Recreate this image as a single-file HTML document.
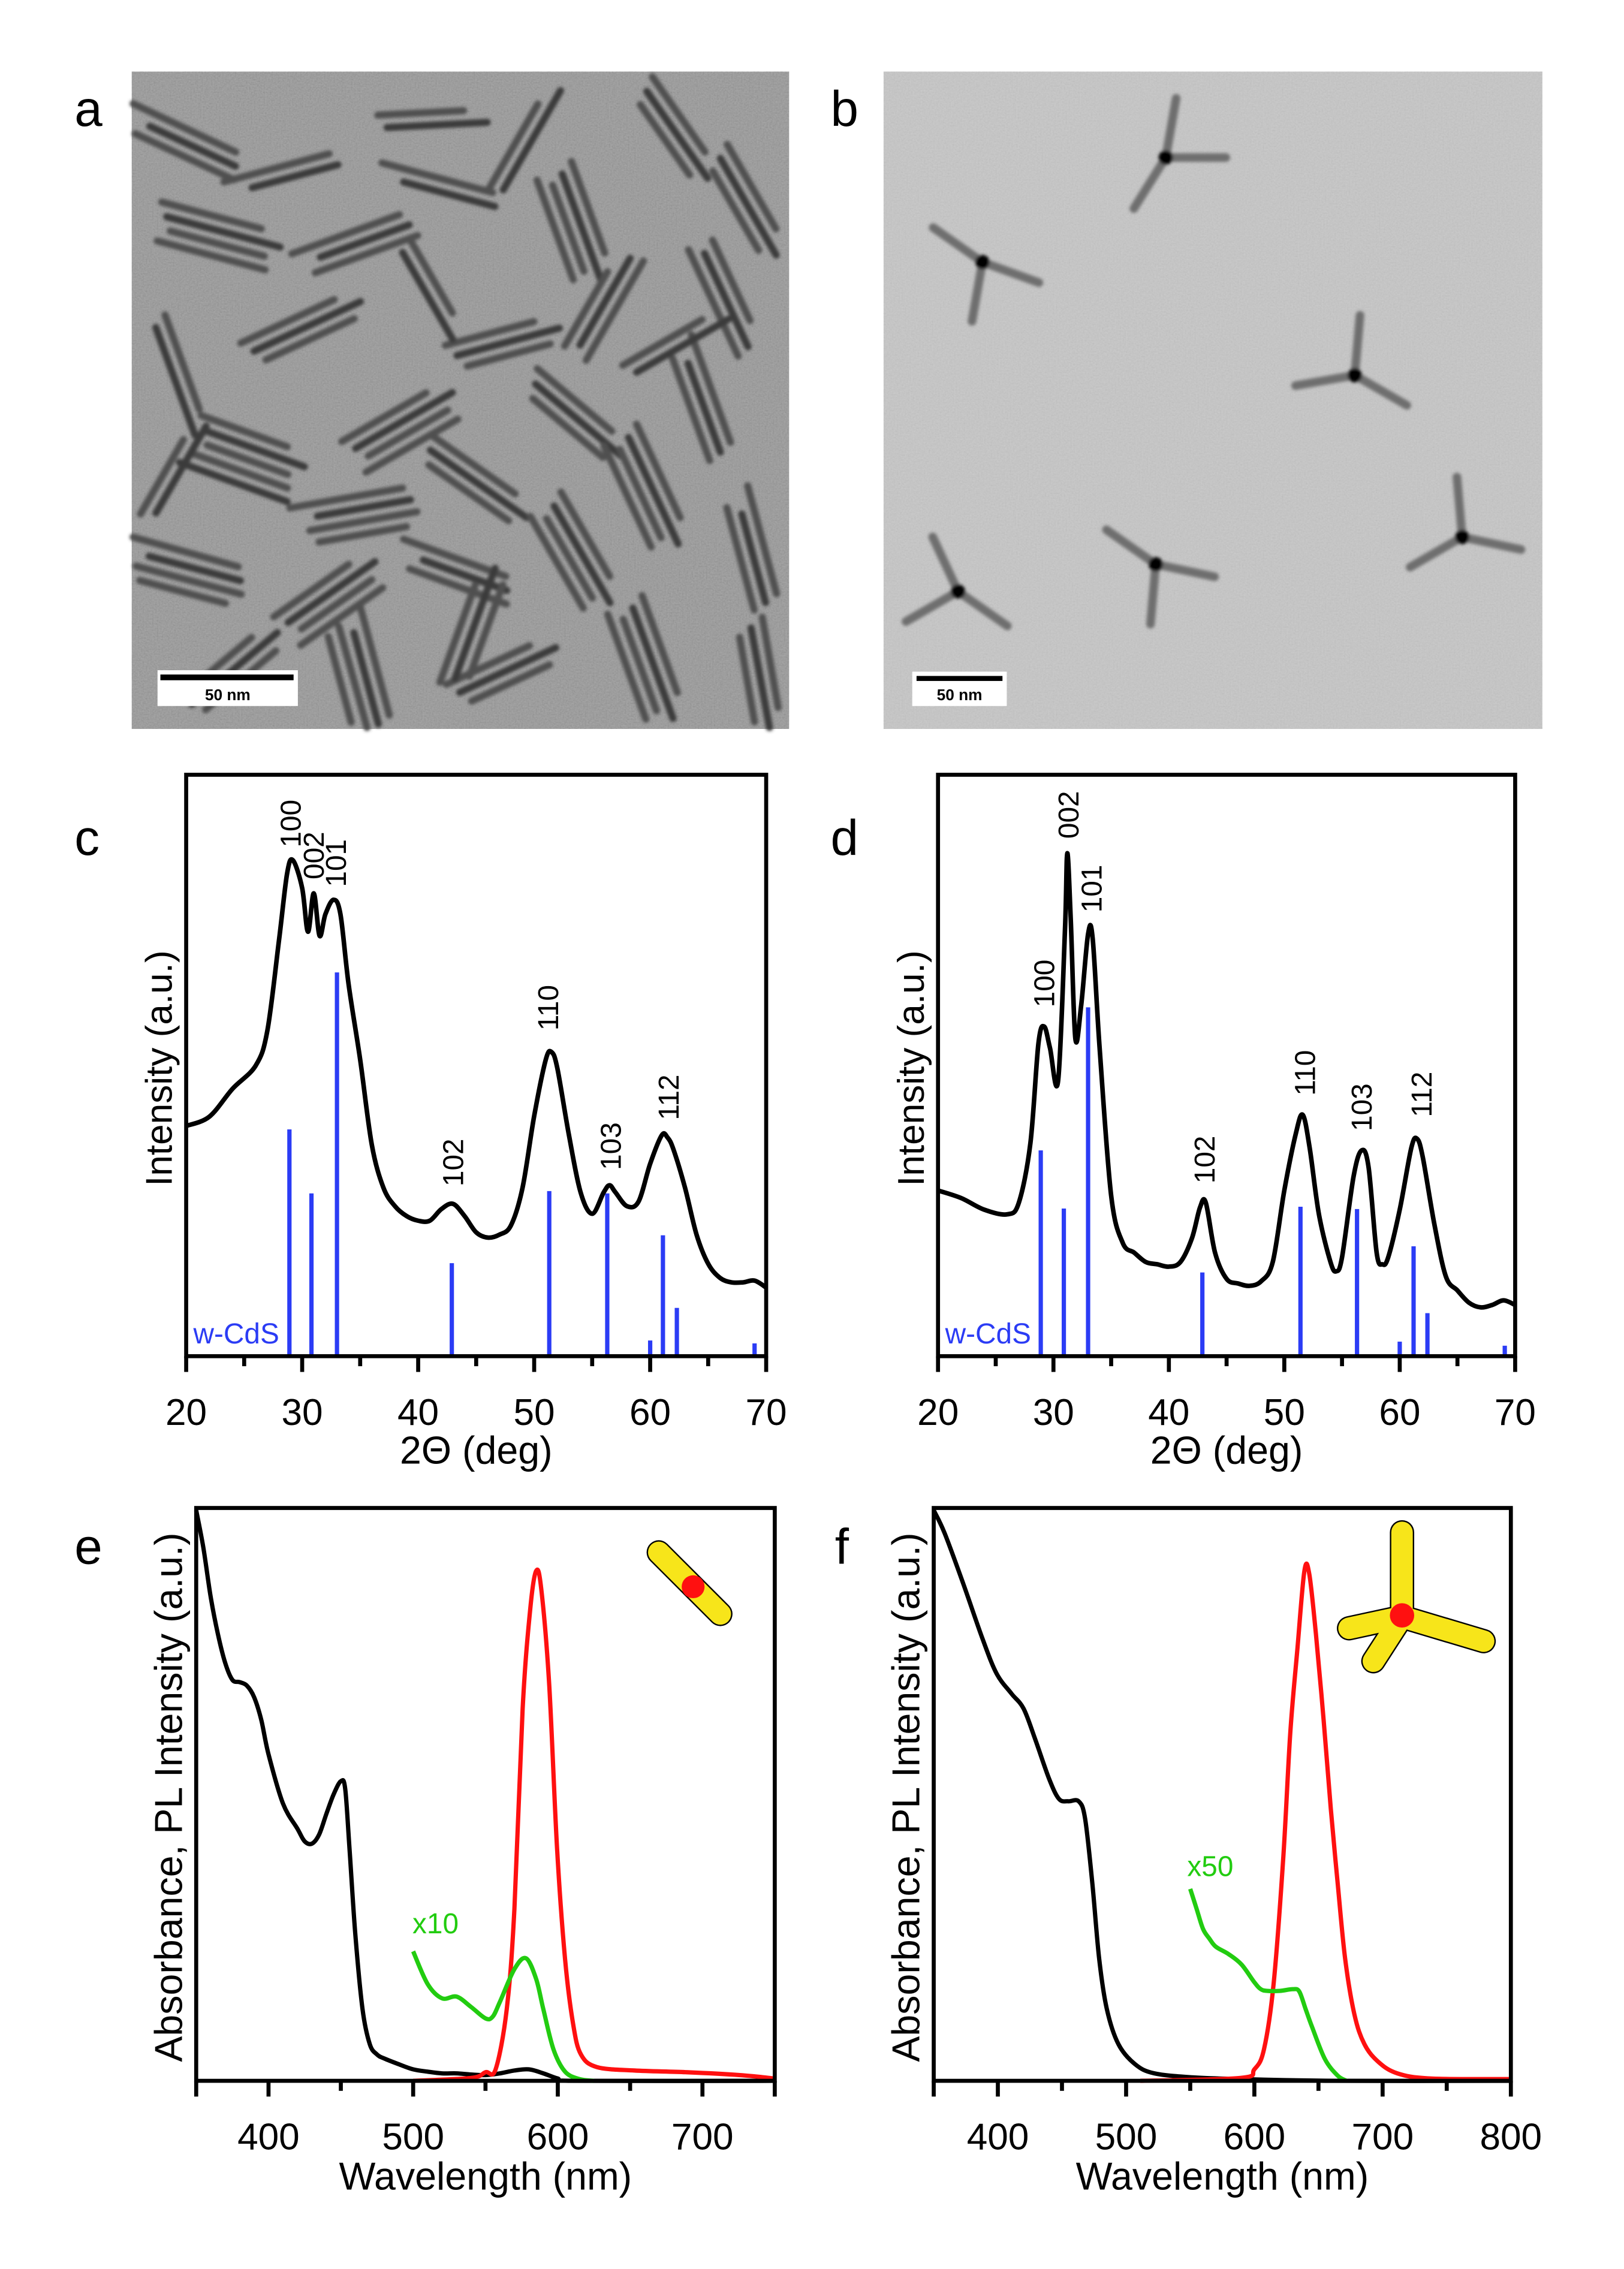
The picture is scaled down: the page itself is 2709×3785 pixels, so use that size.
<!DOCTYPE html>
<html><head><meta charset="utf-8"><style>
html,body{margin:0;padding:0;background:#fff;}
svg{display:block;}
text{font-family:"Liberation Sans",Arial,sans-serif;}
</style></head><body>
<svg id="fig" xmlns="http://www.w3.org/2000/svg" width="2709" height="3785" viewBox="0 0 1134 1584.4">
<defs>
<filter id="noise" x="0" y="0" width="100%" height="100%">
<feTurbulence type="fractalNoise" baseFrequency="0.9" numOctaves="2" seed="3"/>
<feColorMatrix type="saturate" values="0"/>
<feComponentTransfer><feFuncA type="linear" slope="0" intercept="0.35"/></feComponentTransfer>
</filter>
<filter id="soft"><feGaussianBlur stdDeviation="1.1"/></filter>
</defs>
<rect width="1134" height="1584.4" fill="#fff"/>
<g id="tem-a">
<rect x="92" y="50" width="459" height="459" fill="#959595"/>
<rect x="92" y="50" width="459" height="459" filter="url(#noise)" opacity="0.6"/>
<g id="rods" filter="url(#soft)"></g>
</g>
<g id="tem-b">
<rect x="617" y="50" width="460" height="459" fill="#c6c6c6"/>
<rect x="617" y="50" width="460" height="459" filter="url(#noise)" opacity="0.35"/>
<g id="tripods" filter="url(#soft)"></g>
</g>
<g id="scale-a">
<rect x="110" y="468" width="98" height="25" fill="#fff"/>
<rect x="112" y="471" width="93" height="4" fill="#000"/>
<text x="159" y="489" font-size="11" font-weight="bold" text-anchor="middle">50 nm</text>
</g>
<g id="scale-b">
<rect x="637" y="469" width="66" height="24" fill="#fff"/>
<rect x="640" y="472" width="60" height="3.5" fill="#000"/>
<text x="670" y="489" font-size="11" font-weight="bold" text-anchor="middle">50 nm</text>
</g>
<text x="52" y="88" font-size="35">a</text>
<text x="580" y="88" font-size="35">b</text>
<text x="52" y="597" font-size="35">c</text>
<text x="580" y="597" font-size="35">d</text>
<text x="52" y="1092" font-size="35">e</text>
<text x="583" y="1092" font-size="35">f</text>
<g id="charts"></g>
</svg>
<script>
// ---- XRD panel c data ----
const cTheta = [20,22,24,26,27,28,28.7,29.2,30,30.5,31,31.5,32,32.7,33.3,34,35,36,37,38,39,40,41,42,43,44,45,46,47,48,49,50,51,51.5,52,53,54,55,56,56.5,57,58,59,60,61,61.5,62,63,64,65,66,67,68,69,70];
const cIntensity = [39.6,41.2,46,50,56,71.5,83,85.3,80.5,73,79.6,72.3,76,78.5,76,64,51,36.4,29,25.8,24.1,23.3,23.3,25.3,26.2,24.1,21.3,20.4,20.9,22.5,29,41.3,51,52.3,49.5,38,28.2,24.5,28.2,29.4,28.2,25.8,26.6,33.1,38,37.6,35.6,29,20.9,15.9,13.5,12.7,12.7,13,11.8];
const cStickPos = [28.9,30.8,33.0,42.9,51.3,56.3,60.0,61.1,62.3,69.0];
const cStickVal = [39,28,66,16,28.4,28,2.7,20.8,8.3,2.2];
const cPeakLabels = ["100","002","101","102","110","103","112"];
const cPeakPos = [29.0,31.0,32.9,43.0,51.2,56.6,61.6];
const cPeakTextBase = [87.5,82,80.7,29.2,56,32,40.6];
// ---- XRD panel d data ----
const dTheta = [20,22,24,26,27,28,28.7,29.2,29.7,30.4,31.0,31.2,31.5,31.9,32.4,33.0,33.4,34,35,36,37,38,39,40,41,42,42.7,43.2,44,45,46,47,48,49,50,51,51.6,52.2,53,54,54.5,55,56,56.7,57.3,58,58.5,59,60,61,61.5,62,63,64,65,66,67,68,69,70];
const dIntensity = [28.5,27.2,25.2,24.4,26.4,36.6,53.8,56.7,53,47.3,73.4,86.5,75,54.6,60.3,72.6,71.8,53,27.6,19.5,17.8,16.2,15.8,15.4,16.2,20.3,25.6,26.4,17.8,13.3,12.5,12.1,12.9,16.2,28.5,38.3,41.5,35.8,24.4,16.2,14.6,17,30.9,35.4,32.5,17.8,15.8,17,25.2,35.8,37.4,34.2,22.7,13.7,11.3,9.2,8.4,8.8,9.6,8.8];
const dStickPos = [28.9,30.9,33.0,42.9,51.4,56.3,60.0,61.2,62.4,69.1];
const dStickVal = [35.4,25.4,60,14.4,25.7,25.3,2.5,18.9,7.4,1.8];
const dPeakLabels = ["100","002","101","102","110","103","112"];
const dPeakPos = [29.2,31.3,33.3,43.1,51.8,56.7,61.9];
const dPeakTextBase = [60,89,76.3,29.7,44.8,38.7,41.1];
const xrdTicks = [20,30,40,50,60,70];
const xrdMinor = [25,35,45,55,65];
// ---- optical panel e data ----
const eAbsWl = [350,355,360,365,370,375,380,385,390,395,400,410,420,425,430,435,440,445,450,453,456,460,465,470,475,480,490,500,510,520,530,540,550,560,570,580,590,600,610,750];
const eAbsVal = [99.6,93,84.5,78,73,70,69.6,69,67,63,57,48.4,44,41.8,41.4,43,46.6,50,52.3,51,40.5,25.6,12.5,6.4,4.6,3.9,2.9,2,1.6,1.3,1.3,1.1,1,1.3,1.8,2,1.3,0.4,0,0];
const ePlWl = [500,540,550,557,564.7,570,575.7,581,585,588.5,594,599.5,605,610.6,616,627,653,689,726,750];
const ePlVal = [0,0.5,1.5,2,12.5,30,65,82.5,89,86,69.4,40.5,21.3,9.9,4.6,2.4,1.8,1.5,1,0.4];
const ePleWl = [500,510,520,530,540,550,555,560,570,578,585,590,597,605,615,625];
const ePleVal = [22.6,16.9,14.4,14.7,12.9,10.9,11.2,13.8,19.5,21.4,17.8,12.5,5.5,1.6,0.3,0];
// ---- optical panel f data ----
const fAbsWl = [350,358.5,373,388,399,410.6,420,429,440,447.7,455,463,468,473.7,479,485,494,507,522,552,589,663,800];
const fAbsVal = [99.6,95.6,86.8,77.2,71.1,67.6,65,59.7,52.7,49.2,48.8,48.8,45.8,34.4,21.3,12.5,6.4,2.9,1.3,0.6,0.3,0,0];
const fPlWl = [511,589,600,607.5,615,622.5,628,633.6,639,642.8,648,654,659.6,665,670.8,678,685.8,696.7,711.5,737.5,800];
const fPlVal = [0,0.5,2,5.5,16.9,38.8,60.7,75.5,89,88.5,78,63,47.5,34.4,21.3,11.6,6.4,3.3,1.3,0.4,0.3];
const fPleWl = [550,555,560,565,570,580,590,600,605,610,620,630,635,640,645,655,665,672];
const fPleVal = [33.5,30,26.5,24.8,23.4,22.1,20.3,17.2,16,15.7,15.7,16,15.6,12.5,9.4,3.8,0.9,0];

const NS = "http://www.w3.org/2000/svg";
const charts = document.getElementById('charts');
function mk(tag, attrs, parent){ const e=document.createElementNS(NS,tag); for(const k in attrs) e.setAttribute(k,attrs[k]); (parent||charts).appendChild(e); return e; }
function linScale(d0,d1,r0,r1){ return v => r0 + (v-d0)/(d1-d0)*(r1-r0); }
function smoothPath(pts){
  let d = 'M'+pts[0][0].toFixed(2)+','+pts[0][1].toFixed(2);
  for(let i=0;i<pts.length-1;i++){
    const p0=pts[Math.max(0,i-1)], p1=pts[i], p2=pts[i+1], p3=pts[Math.min(pts.length-1,i+2)];
    const c1=[p1[0]+(p2[0]-p0[0])/6, p1[1]+(p2[1]-p0[1])/6];
    const c2=[p2[0]-(p3[0]-p1[0])/6, p2[1]-(p3[1]-p1[1])/6];
    d += 'C'+c1[0].toFixed(2)+','+c1[1].toFixed(2)+' '+c2[0].toFixed(2)+','+c2[1].toFixed(2)+' '+p2[0].toFixed(2)+','+p2[1].toFixed(2);
  }
  return d;
}

function drawPanel(p){
  const g = mk('g',{});
  
  
  const X = linScale(p.xmin,p.xmax,p.x0,p.x1);
  const Y = linScale(0,100,p.y1,p.y0);
  if(p.stickPos){
    p.stickPos.forEach((s,i)=>{
      const l = mk('line',{x1:X(s),x2:X(s),y1:p.y1,y2:Y(p.stickVal[i]),stroke:'#2b3cf5','stroke-width':3},g);
      
      
    });
    const w = mk('text',{x:p.x0+5,y:p.y1-9,'font-size':20,fill:'#2b3cf5'},g);
    w.textContent = 'w-CdS';
    
    
  }
  p.series.forEach(s=>{
    const pts = s.x.map((v,i)=>[X(v),Y(s.y[i])]);
    const path = mk('path',{d:smoothPath(pts),fill:'none',stroke:s.color,'stroke-width':s.w||3,'stroke-linejoin':'round'},g);
    
    
  });
  const fr = mk('rect',{x:p.x0,y:p.y0,width:p.x1-p.x0,height:p.y1-p.y0,fill:'none',stroke:'#000','stroke-width':2.8},g);
  
  
  p.ticks.forEach(t=>{
    const l = mk('line',{x1:X(t),x2:X(t),y1:p.y1,y2:p.y1+11,stroke:'#000','stroke-width':2.8},g);
    
    
    if(p.labelTicks.indexOf(t)>=0){
      const tx = mk('text',{x:X(t),y:p.tickY,'font-size':26,'text-anchor':'middle'},g);
      tx.textContent = t;
      
      
    }
  });
  p.minor.forEach(t=>{
    const l = mk('line',{x1:X(t),x2:X(t),y1:p.y1,y2:p.y1+7,stroke:'#000','stroke-width':2.8},g);
    
    
  });
  const xt = mk('text',{x:(p.x0+p.x1)/2,y:p.titleY,'font-size':27,'text-anchor':'middle'},g);
  xt.textContent = p.xTitle;
  
  
  const yt = mk('text',{x:0,y:0,'font-size':p.yTitleSize,'text-anchor':'middle',transform:`translate(${p.yTitleX},${(p.y0+p.y1)/2+2}) rotate(-90)`},g);
  yt.textContent = p.yTitle;
  
  
  if(p.peakLabels){
    p.peakLabels.forEach((lab,i)=>{
      const x = X(p.peakPos[i])+7, y = Y(p.peakTextBase[i]);
      const t = mk('text',{x:0,y:0,'font-size':20,transform:`translate(${x},${y}) rotate(-90)`},g);
      t.textContent = lab;
      
      
    });
  }
  return {g,X,Y};
}

drawPanel({name:'xrd-chart-c',x0:130,x1:535,y0:541,y1:947,xmin:20,xmax:70,ticks:xrdTicks,labelTicks:xrdTicks,minor:xrdMinor,
  tickY:995,titleY:1022,xTitle:'2\u0398 (deg)',yTitle:'Intensity (a.u.)',yTitleX:120,yTitleSize:26,
  stickPos:cStickPos,stickVal:cStickVal,peakLabels:cPeakLabels,peakPos:cPeakPos,peakTextBase:cPeakTextBase,
  series:[{name:'xrd-curve-c',x:cTheta,y:cIntensity,color:'#000',w:3.2}]});
drawPanel({name:'xrd-chart-d',x0:655,x1:1058,y0:541,y1:947,xmin:20,xmax:70,ticks:xrdTicks,labelTicks:xrdTicks,minor:xrdMinor,
  tickY:995,titleY:1022,xTitle:'2\u0398 (deg)',yTitle:'Intensity (a.u.)',yTitleX:645,yTitleSize:26,
  stickPos:dStickPos,stickVal:dStickVal,peakLabels:dPeakLabels,peakPos:dPeakPos,peakTextBase:dPeakTextBase,
  series:[{name:'xrd-curve-d',x:dTheta,y:dIntensity,color:'#000',w:3.2}]});
drawPanel({name:'optical-chart-e',x0:137,x1:541,y0:1053,y1:1453,xmin:350,xmax:750,ticks:[350,400,500,600,700,750],labelTicks:[400,500,600,700],minor:[450,550,650],
  tickY:1501,titleY:1529,xTitle:'Wavelength (nm)',yTitle:'Absorbance, PL Intensity (a.u.)',yTitleX:127,yTitleSize:27,
  series:[{name:'absorbance-curve-e',x:eAbsWl,y:eAbsVal,color:'#000'},
          {name:'pl-curve-e',x:ePlWl,y:ePlVal,color:'#ff1010'},
          {name:'ple-curve-e',x:ePleWl,y:ePleVal,color:'#22cc10'}]});
drawPanel({name:'optical-chart-f',x0:652,x1:1055,y0:1053,y1:1453,xmin:350,xmax:800,ticks:[350,400,500,600,700,800],labelTicks:[400,500,600,700,800],minor:[450,550,650,750],
  tickY:1501,titleY:1529,xTitle:'Wavelength (nm)',yTitle:'Absorbance, PL Intensity (a.u.)',yTitleX:642,yTitleSize:27,
  series:[{name:'absorbance-curve-f',x:fAbsWl,y:fAbsVal,color:'#000'},
          {name:'pl-curve-f',x:fPlWl,y:fPlVal,color:'#ff1010'},
          {name:'ple-curve-f',x:fPleWl,y:fPleVal,color:'#22cc10'}]});
let t1 = mk('text',{x:288,y:1350,'font-size':20,fill:'#22cc10'});
t1.textContent='x10';


let t2 = mk('text',{x:829,y:1310,'font-size':20,fill:'#22cc10'});
t2.textContent='x50';



// insets
function arm(g,x1,y1,x2,y2,w){
  mk('line',{x1,y1,x2,y2,stroke:'#000','stroke-width':w+2,'stroke-linecap':'round'},g);
  mk('line',{x1,y1,x2,y2,stroke:'#f7e51a','stroke-width':w,'stroke-linecap':'round'},g);
}
const insE = mk('g',{});


arm(insE,460,1084,503,1127,15);
mk('circle',{cx:484,cy:1108,r:8,fill:'#ff1010'},insE);
const insF = mk('g',{});


const arms = [[979,1070],[942,1137],[959,1160],[1036,1146]];
arms.forEach(a=>mk('line',{x1:979,y1:1129,x2:a[0],y2:a[1],stroke:'#000','stroke-width':17,'stroke-linecap':'round'},insF));
arms.forEach(a=>mk('line',{x1:979,y1:1129,x2:a[0],y2:a[1],stroke:'#f7e51a','stroke-width':15,'stroke-linecap':'round'},insF));
mk('circle',{cx:979,cy:1128,r:8.5,fill:'#ff1010'},insF);

// TEM nanorods (image texture)
const rods = document.getElementById('rods');
const bundles = [[130,100,25,3],[300,83,-3,2],[470,90,55,3],[150,165,15,4],[250,170,-20,3],[400,155,70,4],[520,140,60,3],[210,230,-25,3],[125,260,70,2],[350,240,-15,3],[420,215,-60,3],[505,205,65,3],[170,320,20,5],[280,300,-30,4],[400,290,40,3],[490,280,70,3],[250,360,-10,4],[330,335,35,3],[450,340,65,4],[130,400,15,4],[230,420,-35,4],[320,400,20,3],[400,385,60,4],[525,385,75,3],[160,470,-40,3],[250,470,75,4],[350,470,-25,3],[450,460,70,4],[530,470,80,3],[310,130,15,2],[365,100,-60,2],[470,240,-30,2],[200,120,-15,2],[330,440,-70,3],[120,330,-60,2],[300,200,60,2]];
bundles.forEach(b=>{
  const a=b[2]*Math.PI/180, c=Math.cos(a), s=Math.sin(a);
  for(let i=0;i<b[3];i++){
    const off=(i-(b[3]-1)/2)*9, sh=((i*37)%13)-6, L=30+((i*17+b[0])%12);
    const cx=b[0]-s*off+c*sh, cy=b[1]+c*off+s*sh;
    const x1=Math.max(93,Math.min(550,cx-c*L)), y1=Math.max(51,Math.min(508,cy-s*L));
    const x2=Math.max(93,Math.min(550,cx+c*L)), y2=Math.max(51,Math.min(508,cy+s*L));
    const l = mk('line',{x1,y1,x2,y2,stroke:(i%3==1?'#3a3a3a':'#505050'),'stroke-width':5,'stroke-linecap':'round'},rods);
    
    
  }
});
const tri = document.getElementById('tripods');
const tps = [[814,110,[-80,0,122]],[686,183,[-145,20,100]],[946,262,[-85,30,170]],[1021,375,[-95,12,150]],[669,413,[-115,35,150]],[807,394,[-145,12,95]]];
tps.forEach(t=>{
  t[2].forEach(an=>{
    const a=an*Math.PI/180;
    const l = mk('line',{x1:t[0],y1:t[1],x2:t[0]+Math.cos(a)*42,y2:t[1]+Math.sin(a)*42,stroke:'#6e6e6e','stroke-width':6,'stroke-linecap':'round'},tri);
    
    
  });
  const d = mk('circle',{cx:t[0],cy:t[1],r:5,fill:'#050505'},tri);
  
  
});
</script>
</body></html>
